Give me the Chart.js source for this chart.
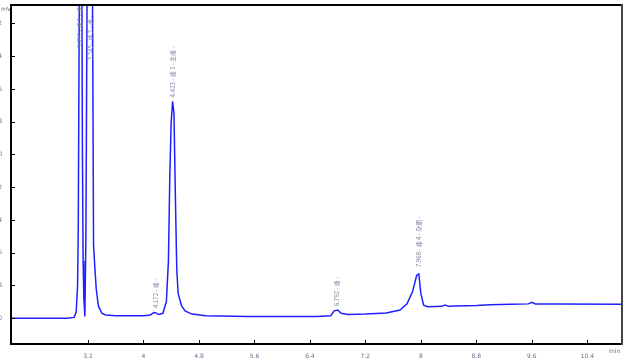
<!DOCTYPE html>
<html>
<head>
<meta charset="utf-8">
<script src="https://cdn.jsdelivr.net/npm/chart.js@4.4.0/dist/chart.umd.min.js"></script>
<style>
  html, body { margin: 0; padding: 0; background: #fff; }
  #wrap { width: 626px; height: 358px; }
</style>
</head>
<body>
<div id="wrap"><canvas id="chrom"></canvas></div>
<script>
// retention time (min) and detector signal (mV)
const times = [2.09, 2.5, 2.9, 3.0, 3.03, 3.05, 3.06, 3.075, 3.09, 3.11, 3.12, 3.13, 3.14, 3.155,
  3.17, 3.19, 3.245, 3.27, 3.28, 3.3, 3.32, 3.35, 3.4, 3.45, 3.6, 4.0, 4.1, 4.15, 4.18, 4.22,
  4.28, 4.33, 4.36, 4.38, 4.40, 4.42, 4.44, 4.46, 4.48, 4.5, 4.55, 4.6, 4.7, 4.9, 5.5, 6.5,
  6.7, 6.75, 6.8, 6.85, 6.95, 7.2, 7.5, 7.7, 7.8, 7.88, 7.94, 7.97, 8.0, 8.04, 8.1, 8.3, 8.35,
  8.4, 8.5, 8.8, 9.0, 9.3, 9.55, 9.6, 9.65, 10.0, 10.9];
const signal = [0.0, 0.0, 0.0, 0.2, 1.5, 8, 22, 80, 150, 90, 40, 14, 5, 0.4,
  20, 90, 150, 60, 18, 12, 7, 3, 1.2, 0.8, 0.6, 0.6, 0.8, 1.4, 1.3, 0.9,
  1.2, 4, 14, 35, 48, 53, 50, 30, 12, 6, 3, 1.8, 1.0, 0.6, 0.4, 0.4,
  0.6, 1.8, 2.0, 1.2, 0.9, 1.0, 1.3, 2.0, 3.5, 6.5, 10.5, 10.8, 6, 3.2, 2.8, 2.9, 3.2,
  2.9, 3.0, 3.1, 3.3, 3.4, 3.5, 3.9, 3.5, 3.5, 3.4];

const xTicks = [3.2, 4, 4.8, 5.6, 6.4, 7.2, 8, 8.8, 9.6, 10.4];
const yTicks = [0, 8, 16, 24, 32, 40, 48, 56, 64, 72];

// peak annotations: time, signal where the label ends, label text
const peakTimes = [3.085, 3.24, 4.17, 4.42, 6.79, 7.97];
const peakLabelBase = [66, 63, 2.5, 54, 3.0, 12.5];
const peakLabels = ['3.092 - 峰 1 - 峰', '3.245 - 峰 2 - 峰 -', '4.172 - 峰 -',
  '4.423 - 峰 3 - 主峰 -', '6.792 - 峰 -', '7.968 - 峰 4 - 杂质 -'];

const points = times.map((t, i) => ({ x: t, y: signal[i] }));

const frameAndTicks = {
  id: 'frameAndTicks',
  afterDraw(chart) {
    const { ctx, chartArea: a, scales } = chart;
    const l = Math.round(a.left), r = Math.round(a.right);
    const t = Math.round(a.top), b = Math.round(a.bottom);
    ctx.save();
    ctx.fillStyle = '#000';
    xTicks.forEach(v => {
      const px = Math.round(scales.x.getPixelForValue(v));
      ctx.fillRect(px, b - 4, 1, 4);
    });
    yTicks.forEach(v => {
      const py = Math.round(scales.y.getPixelForValue(v));
      ctx.fillRect(l, py, 4, 1);
    });
    // frame
    ctx.fillRect(l - 1, t - 1, r - l + 2, 2);   // top
    ctx.fillRect(l - 1, t - 1, 2, b - t + 2);   // left
    ctx.fillRect(l - 1, b - 1, r - l + 2, 2);   // bottom
    ctx.fillStyle = '#444';
    ctx.fillRect(r - 1, t - 1, 2, b - t + 2);   // right

    // units
    ctx.fillStyle = '#6c6c8a';
    ctx.font = '6px "DejaVu Sans"';
    ctx.textBaseline = 'middle';
    ctx.textAlign = 'left';
    ctx.fillText('mV', 1, t + 4);
    ctx.fillText('min', r - 13, b + 7);

    // rotated peak labels
    ctx.font = '6px "Noto Sans CJK SC"';
    ctx.fillStyle = '#76809a';
    peakTimes.forEach((pt, i) => {
      const px = scales.x.getPixelForValue(pt);
      const py = scales.y.getPixelForValue(peakLabelBase[i]);
      ctx.save();
      ctx.translate(px, py);
      ctx.rotate(-Math.PI / 2);
      ctx.textAlign = 'left';
      ctx.fillText(peakLabels[i], 0, 0);
      ctx.restore();
    });
    ctx.restore();
  }
};

new Chart(document.getElementById('chrom'), {
  type: 'line',
  data: {
    datasets: [{
      label: 'signal',
      data: points,
      borderColor: '#1f1fff',
      borderWidth: 1.5,
      pointRadius: 0,
      tension: 0,
      fill: false
    }]
  },
  options: {
    responsive: true,
    maintainAspectRatio: false,
    animation: false,
    layout: { padding: { top: 4, right: 4, left: 0, bottom: 0 } },
    plugins: { legend: { display: false }, tooltip: { enabled: false } },
    scales: {
      x: {
        type: 'linear',
        min: 2.09,
        max: 10.9,
        afterBuildTicks: s => { s.ticks = xTicks.map(v => ({ value: v })); },
        afterFit: s => { s.height = 14; },
        grid: { display: false },
        border: { display: false },
        ticks: {
          color: '#6c6c8a',
          font: { size: 6, family: 'DejaVu Sans' },
          padding: 1,
          maxRotation: 0,
          autoSkip: false,
          callback: v => String(v)
        }
      },
      y: {
        min: -6.3,
        max: 76.6,
        afterBuildTicks: s => { s.ticks = yTicks.map(v => ({ value: v })); },
        afterFit: s => { s.width = 11; },
        grid: { display: false },
        border: { display: false },
        ticks: {
          color: '#6c6c8a',
          font: { size: 6, family: 'DejaVu Sans' },
          padding: 1,
          autoSkip: false,
          callback: v => String(v)
        }
      }
    }
  },
  plugins: [frameAndTicks]
});
</script>
</body>
</html>
